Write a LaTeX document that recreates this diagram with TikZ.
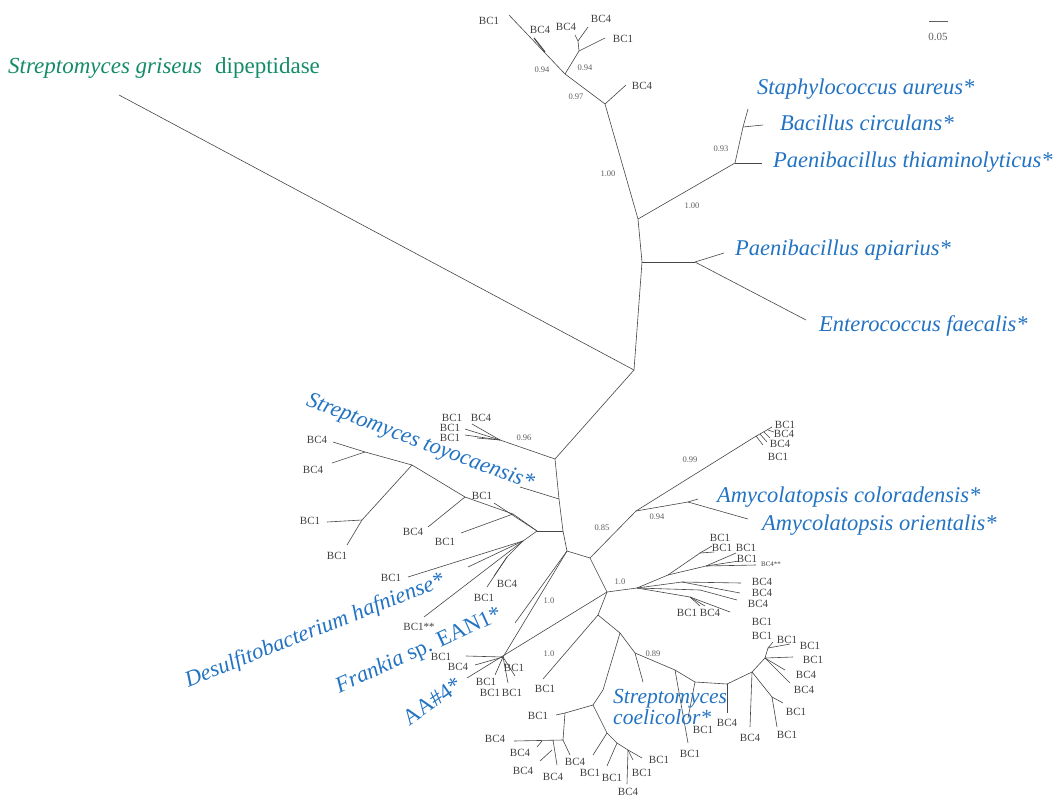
\documentclass[tikz,border=0pt]{standalone}
\usepackage{fontspec}
\setmainfont{Liberation Serif}
\definecolor{ln}{RGB}{70,70,70}
\definecolor{spb}{RGB}{35,115,195}
\definecolor{grn}{RGB}{20,140,105}
\definecolor{bcg}{RGB}{65,65,65}
\definecolor{sup}{RGB}{95,95,95}
\begin{document}
\begin{tikzpicture}[x=1pt,y=-1pt,
  br/.style={draw=ln, line width=0.6pt},
  bc/.style={font=\fontsize{11}{11}\selectfont, text=bcg, inner sep=0pt},
  sv/.style={font=\fontsize{8.5}{9}\selectfont, text=sup, inner sep=0pt},
  spn/.style={font=\fontsize{22.5}{24}\selectfont\itshape, text=spb, inner sep=0pt, anchor=west},
  rsp/.style={font=\fontsize{22.5}{24}\selectfont, text=spb, inner sep=0pt}]
\useasboundingbox (0,0) rectangle (1060,798);
\fill[white] (0,0) rectangle (1060,798);

% ---------- title and scale
\node[anchor=west, inner sep=0pt, text=grn, font=\fontsize{23}{25}\selectfont] (title) at (8,68) {\textit{Streptomyces griseus}\hspace{13pt}dipeptidase};
\draw[draw=sup, line width=0.4pt] (929,21) -- (948,21);
\node[sv, font=\fontsize{11}{11}\selectfont] (scale) at (938,37) {0.05};

% ---------- internal coordinates
\coordinate (tD) at (605,104);
\coordinate (tE) at (638,219);
\coordinate (tF) at (642,262);
\coordinate (root) at (634,370);
\coordinate (s1) at (555,459);
\coordinate (s2) at (559,499);
\coordinate (s3) at (563,531);
\coordinate (s4) at (567,551);
\coordinate (j2) at (590,558);
\coordinate (j3) at (607,592);
\coordinate (j4) at (598,615);

% ---------- top cluster
\draw[br] (509,15) -- (565,74) -- (tD);
\draw[br, line width=1.2pt] (534,38) -- (545,52);
\draw[br] (565,74) -- (579,51) -- (605,38);
\draw[br] (579,51) -- (578,41) -- (575,35);
\draw[br] (578,41) -- (588,27);
\draw[br] (tD) -- (626,85);
\node[bc] at (489,21) {BC1};
\node[bc] at (540,30) {BC4};
\node[bc] at (566,27) {BC4};
\node[bc] at (601,19) {BC4};
\node[bc] at (623,39) {BC1};
\node[bc] at (642,86) {BC4};
\node[sv] at (542,70) {0.94};
\node[sv] at (585,68) {0.94};
\node[sv] at (576,97) {0.97};

% ---------- spine and upper clades
\draw[br] (tD) -- (tE) -- (tF) -- (root);
\node[sv] at (608,174) {1.00};
\draw[br] (tE) -- (735,163);
\node[sv] at (692,206) {1.00};
\draw[br] (735,163) -- (743,127) -- (748,109);
\draw[br] (743,127) -- (763,125);
\draw[br] (735,163) -- (762,163);
\node[sv] at (721,149) {0.93};
\node[spn] at (757,89) {Staphylococcus aureus*};
\node[spn] at (780,123) {Bacillus circulans*};
\node[spn] at (773,162) {Paenibacillus thiaminolyticus*};
\draw[br] (tF) -- (695,262);
\draw[br] (695,262) -- (724,253);
\draw[br] (695,262) -- (806,320);
\node[spn] at (735,250) {Paenibacillus apiarius*};
\node[spn] at (819,326) {Enterococcus faecalis*};

% ---------- griseus
\draw[br] (119,95) -- (root);

% ---------- lower spine
\draw[br] (root) -- (s1) -- (s2) -- (s3) -- (s4) -- (j2) -- (j3) -- (j4);

% 0.96 cluster
\draw[br] (s1) -- (500,440);
\draw[br] (500,440) -- (472,424);
\draw[br] (500,440) -- (465,429);
\draw[br] (500,440) -- (465,435);
\draw[br] (500,440) -- (477,438);
\node[sv] at (524,438) {0.96};
\node[bc] at (452,418) {BC1};
\node[bc] at (481,418) {BC4};
\node[bc] at (450,428) {BC1};
\node[bc] at (450,438) {BC1};

% toyocaensis
\draw[br] (s2) -- (520,487);
\node[font=\fontsize{22.5}{24}\selectfont\itshape, text=spb, inner sep=0pt, rotate=-20.5] at (420,443) {Streptomyces toyocaensis*};

% left subtree
\coordinate (n1) at (537,531);
\coordinate (n2) at (513,514);
\coordinate (n3) at (465,497);
\coordinate (n4) at (412,465);
\draw[br] (s3) -- (n1);
\draw[br] (n1) -- (494,503);
\node[bc] at (482,496) {BC1};
\draw[br] (n1) -- (n2) -- (n3) -- (n4);
\draw[br] (n2) -- (461,533);
\node[bc] at (445,542) {BC1};
\draw[br] (n3) -- (428,527);
\node[bc] at (413,532) {BC4};
\draw[br] (n4) -- (365,452) -- (333,442);
\draw[br] (365,452) -- (332,463);
\node[bc] at (317,440) {BC4};
\node[bc] at (313,470) {BC4};
\draw[br] (n4) -- (362,520);
\draw[br] (362,520) -- (327,522);
\draw[br] (362,520) -- (347,545);
\node[bc] at (310,521) {BC1};
\node[bc] at (337,556) {BC1};

% lower-left fan
\coordinate (l1) at (523,541);
\coordinate (l2) at (507,557);
\draw[br] (n1) -- (l1);
\draw[br] (l1) -- (408,577);
\node[bc] at (391,578) {BC1};
\draw[br] (l1) -- (468,567);
\node[font=\fontsize{22.5}{24}\selectfont\itshape, text=spb, inner sep=0pt, rotate=21.6] at (315,631) {Desulfitobacterium hafniense*};
\draw[br] (l1) -- (424,617);
\node[bc] at (419,627) {BC1**};
\draw[br] (l1) -- (l2);
\draw[br] (l2) -- (494,576);
\draw[br] (l2) -- (487,587);
\node[bc] at (507,584) {BC4};
\node[bc] at (484,598) {BC1};

% Frankia
\draw[br] (s4) -- (515,623);
\node[sv] at (549,601) {1.0};
\node[rsp, rotate=24.4] at (419,651) {\textit{Frankia} sp. EAN1*};
\coordinate (f1) at (503,657);
\draw[br] (s4) -- (f1);
\draw[br] (f1) -- (466,656);
\draw[br] (f1) -- (475,665);
\draw[br] (f1) -- (495,675);
\draw[br] (f1) -- (508,683);
\draw[br] (f1) -- (515,676);
\node[bc] at (441,657) {BC1};
\node[bc] at (458,667) {BC4};
\node[bc] at (514,668) {BC1};
\node[bc] at (486,682) {BC1};
\node[bc] at (490,693) {BC1};
\node[bc] at (512,693) {BC1};
% AA#4
\draw[br] (j3) -- (467,678);
\node[rsp, rotate=35] at (432,701) {AA\#4*};
% BC1 single
\draw[br] (j4) -- (543,679);
\node[sv] at (549,654) {1.0};
\node[bc] at (545,689) {BC1};

% 0.85 Amycolatopsis
\coordinate (a1) at (636,511);
\coordinate (a2) at (753,438);
\coordinate (a3) at (688,502);
\draw[br] (j2) -- (a1);
\node[sv] at (602,528) {0.85};
\draw[br] (a1) -- (a2) -- (772,427);
\draw[br] (756,436) -- (763,445);
\draw[br] (760,434) -- (767,442);
\draw[br] (764,432) -- (770,438);
\draw[br] (768,430) -- (774,432);
\node[bc] at (785,425) {BC1};
\node[bc] at (784,434) {BC4};
\node[bc] at (780,444) {BC4};
\node[bc] at (778,457) {BC1};
\node[sv] at (690,460) {0.99};
\draw[br] (a1) -- (a3);
\node[sv] at (657,517) {0.94};
\draw[br] (a3) -- (698,499);
\draw[br] (a3) -- (748,519);
\node[spn] at (717,497) {Amycolatopsis coloradensis*};
\node[spn] at (762,525) {Amycolatopsis orientalis*};

% 1.0 fan
\coordinate (m1) at (637,588);
\draw[br] (j3) -- (m1);
\node[sv] at (620,582) {1.0};
\draw[br] (m1) -- (668,575) -- (700,553) -- (712,546);
\draw[br] (700,553) -- (714,552);
\draw[br] (668,575) -- (706,566) -- (736,553);
\draw[br] (706,566) -- (739,561);
\draw[br] (706,566) -- (756,565);
\draw[br] (m1) -- (682,582) -- (741,583);
\draw[br] (682,582) -- (740,593);
\draw[br] (m1) -- (700,590) -- (737,600);
\draw[br] (m1) -- (690,597) -- (730,612);
\draw[br] (690,597) -- (705,606);
\draw[br] (690,597) -- (700,606);
\node[bc] at (720,538) {BC1};
\node[bc] at (722,548) {BC1};
\node[bc] at (746,548) {BC1};
\node[bc] at (747,559) {BC1};
\node[bc, font=\fontsize{7}{7}\selectfont] at (771,564) {BC4**};
\node[bc] at (762,582) {BC4};
\node[bc] at (762,593) {BC4};
\node[bc] at (758,604) {BC4};
\node[bc] at (687,613) {BC1};
\node[bc] at (710,613) {BC4};
\node[bc] at (762,622) {BC1};

% 0.89 subtree
\coordinate (c1) at (620,633);
\coordinate (c2) at (635,653);
\coordinate (c3) at (675,670);
\coordinate (c4) at (695,682);
\coordinate (c5) at (727,684);
\coordinate (c6) at (752,672);
\coordinate (c7) at (772,697);
\coordinate (c8) at (765,658);
\coordinate (c9) at (768,648);
\draw[br] (j4) -- (c1) -- (c2) -- (643,682);
\draw[br] (c2) -- (c3);
\node[sv] at (653,654) {0.89};
\draw[br] (c3) -- (688,743);
\node[bc] at (690,754) {BC1};
\draw[br] (c3) -- (c4);
\draw[br] (c4) -- (688,718);
\node[bc] at (703,730) {BC1};
\draw[br] (c4) -- (c5);
\draw[br] (c5) -- (727,713);
\node[bc] at (727,723) {BC4};
\draw[br] (c5) -- (c6);
\draw[br] (c6) -- (750,727);
\node[bc] at (750,738) {BC4};
\draw[br] (c6) -- (c7);
\draw[br] (c7) -- (783,703);
\draw[br] (c7) -- (777,727);
\node[bc] at (796,712) {BC1};
\node[bc] at (787,735) {BC1};
\draw[br] (c6) -- (c8);
\draw[br] (c8) -- (c9);
\draw[br] (c9) -- (773,642);
\draw[br] (c9) -- (790,644);
\draw[br] (c8) -- (793,657);
\draw[br] (c8) -- (785,670);
\draw[br] (c8) -- (790,683);
\node[bc] at (762,636) {BC1};
\node[bc] at (787,640) {BC1};
\node[bc] at (810,646) {BC1};
\node[bc] at (813,660) {BC1};
\node[bc] at (806,675) {BC4};
\node[bc] at (804,690) {BC4};
\node[font=\fontsize{21.5}{17}\selectfont\itshape, text=spb, inner sep=0pt, anchor=west, align=left] at (613,707) {Streptomyces\\coelicolor*};

% bottom subtree
\coordinate (b1) at (593,705);
\coordinate (b2) at (565,713);
\coordinate (b3) at (563,740);
\coordinate (b4) at (553,740);
\coordinate (b5) at (607,733);
\coordinate (b6) at (628,750);
\draw[br] (c1) -- (603,690) -- (b1);
\draw[br] (b1) -- (b2) -- (556,715);
\node[bc] at (538,716) {BC1};
\draw[br] (b2) -- (b3) -- (514,741);
\node[bc] at (495,739) {BC4};
\draw[br] (b4) -- (557,765);
\draw[br] (552,750) -- (540,761);
\draw[br] (542,741) -- (537,747);
\draw[br] (b3) -- (570,755);
\node[bc] at (520,753) {BC4};
\node[bc] at (523,771) {BC4};
\node[bc] at (553,777) {BC4};
\node[bc] at (575,762) {BC4};
\draw[br] (b1) -- (b5);
\draw[br] (b5) -- (593,755);
\node[bc] at (590,773) {BC1};
\draw[br] (b5) -- (617,743) -- (607,766);
\node[bc] at (612,778) {BC1};
\draw[br] (617,743) -- (b6) -- (642,758);
\node[bc] at (659,760) {BC1};
\draw[br] (b6) -- (633,760);
\node[bc] at (642,773) {BC1};
\draw[br] (b6) -- (627,784);
\node[bc] at (628,792) {BC4};
\end{tikzpicture}
\end{document}
